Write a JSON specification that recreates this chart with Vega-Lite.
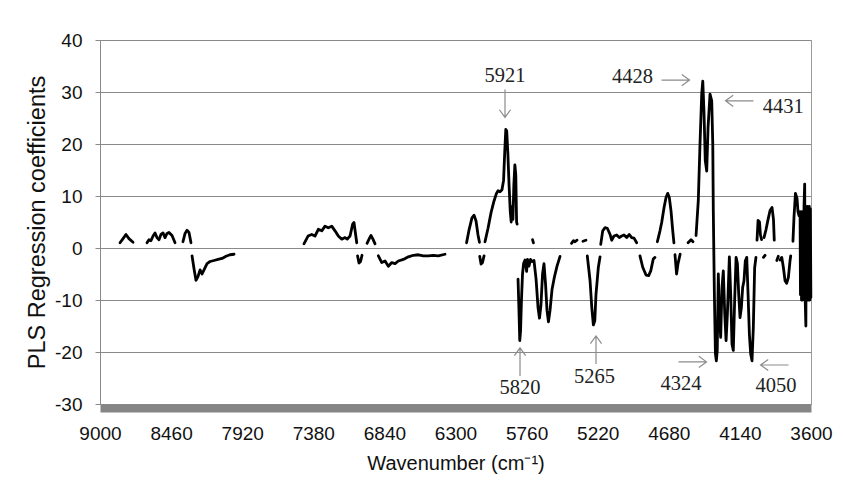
{
  "$schema": "https://vega.github.io/schema/vega-lite/v6.json",
  "width": 711,
  "height": 364,
  "autosize": "none",
  "padding": {"left": 100, "top": 40, "right": 32, "bottom": 76},
  "background": "white",
  "config": {"view": {"stroke": "#9a9a9a", "strokeWidth": 1}, "font": "Liberation Sans"},
  "datasets": {
    "spectrum": [
      {"seg":1,"w":8848,"v":1.0},{"seg":1,"w":8825,"v":1.8},{"seg":1,"w":8803,"v":2.6},{"seg":1,"w":8780,"v":1.8},{"seg":1,"w":8749,"v":1.1},
      {"seg":2,"w":8643,"v":1.0},{"seg":2,"w":8628,"v":1.6},{"seg":2,"w":8613,"v":1.4},{"seg":2,"w":8597,"v":2.3},{"seg":2,"w":8582,"v":2.9},{"seg":2,"w":8567,"v":2.0},{"seg":2,"w":8552,"v":1.6},{"seg":2,"w":8537,"v":2.6},{"seg":2,"w":8521,"v":2.9},{"seg":2,"w":8506,"v":2.0},{"seg":2,"w":8491,"v":2.8},{"seg":2,"w":8476,"v":3.0},{"seg":2,"w":8453,"v":2.4},{"seg":2,"w":8430,"v":1.0},
      {"seg":3,"w":8370,"v":1.2},{"seg":3,"w":8354,"v":2.8},{"seg":3,"w":8339,"v":3.4},{"seg":3,"w":8324,"v":3.0},{"seg":3,"w":8309,"v":1.0},
      {"seg":4,"w":8301,"v":-1.5},{"seg":4,"w":8286,"v":-4.0},{"seg":4,"w":8271,"v":-6.2},{"seg":4,"w":8256,"v":-5.5},{"seg":4,"w":8240,"v":-4.2},{"seg":4,"w":8225,"v":-5.0},{"seg":4,"w":8210,"v":-4.2},{"seg":4,"w":8187,"v":-3.0},{"seg":4,"w":8164,"v":-2.6},{"seg":4,"w":8134,"v":-2.4},{"seg":4,"w":8104,"v":-2.2},{"seg":4,"w":8073,"v":-2.0},{"seg":4,"w":8043,"v":-1.6},{"seg":4,"w":8013,"v":-1.3},{"seg":4,"w":7982,"v":-1.2},
      {"seg":5,"w":7451,"v":0.8},{"seg":5,"w":7420,"v":2.3},{"seg":5,"w":7392,"v":2.6},{"seg":5,"w":7367,"v":2.3},{"seg":5,"w":7342,"v":3.6},{"seg":5,"w":7316,"v":3.3},{"seg":5,"w":7291,"v":4.2},{"seg":5,"w":7266,"v":3.9},{"seg":5,"w":7240,"v":4.2},{"seg":5,"w":7215,"v":3.3},{"seg":5,"w":7190,"v":2.3},{"seg":5,"w":7164,"v":1.7},{"seg":5,"w":7139,"v":2.0},{"seg":5,"w":7122,"v":1.7},{"seg":5,"w":7101,"v":2.3},{"seg":5,"w":7081,"v":4.6},{"seg":5,"w":7071,"v":4.9},{"seg":5,"w":7050,"v":1.0},
      {"seg":6,"w":7044,"v":-1.5},{"seg":6,"w":7033,"v":-2.9},{"seg":6,"w":7021,"v":-2.6},{"seg":6,"w":7010,"v":-1.4},
      {"seg":7,"w":6972,"v":0.9},{"seg":7,"w":6953,"v":1.9},{"seg":7,"w":6942,"v":2.4},{"seg":7,"w":6927,"v":1.7},{"seg":7,"w":6911,"v":0.8},
      {"seg":8,"w":6886,"v":-1.5},{"seg":8,"w":6860,"v":-2.8},{"seg":8,"w":6835,"v":-2.5},{"seg":8,"w":6810,"v":-3.5},{"seg":8,"w":6784,"v":-2.8},{"seg":8,"w":6759,"v":-3.0},{"seg":8,"w":6734,"v":-2.5},{"seg":8,"w":6696,"v":-2.2},{"seg":8,"w":6658,"v":-1.7},{"seg":8,"w":6620,"v":-1.4},{"seg":8,"w":6582,"v":-1.3},{"seg":8,"w":6544,"v":-1.5},{"seg":8,"w":6506,"v":-1.5},{"seg":8,"w":6469,"v":-1.4},{"seg":8,"w":6431,"v":-1.5},{"seg":8,"w":6380,"v":-1.2},
      {"seg":9,"w":6216,"v":1.0},{"seg":9,"w":6197,"v":3.5},{"seg":9,"w":6175,"v":5.8},{"seg":9,"w":6159,"v":6.3},{"seg":9,"w":6144,"v":5.2},{"seg":9,"w":6129,"v":2.5},{"seg":9,"w":6118,"v":1.1},
      {"seg":10,"w":6116,"v":-1.6},{"seg":10,"w":6106,"v":-3.1},{"seg":10,"w":6095,"v":-2.8},{"seg":10,"w":6083,"v":-1.5},
      {"seg":11,"w":6076,"v":1.2},{"seg":11,"w":6053,"v":3.8},{"seg":11,"w":6030,"v":6.8},{"seg":11,"w":6008,"v":9.0},{"seg":11,"w":5989,"v":10.5},{"seg":11,"w":5977,"v":11.0},{"seg":11,"w":5962,"v":10.8},{"seg":11,"w":5947,"v":11.2},{"seg":11,"w":5935,"v":13.0},{"seg":11,"w":5926,"v":18.5},{"seg":11,"w":5918,"v":22.8},{"seg":11,"w":5911,"v":22.5},{"seg":11,"w":5902,"v":18.0},{"seg":11,"w":5893,"v":12.0},{"seg":11,"w":5884,"v":7.0},{"seg":11,"w":5877,"v":5.0},{"seg":11,"w":5870,"v":8.0},{"seg":11,"w":5864,"v":5.5},{"seg":11,"w":5857,"v":12.0},{"seg":11,"w":5849,"v":16.0},{"seg":11,"w":5842,"v":14.0},{"seg":11,"w":5836,"v":5.0},{"seg":11,"w":5832,"v":4.6},
      {"seg":12,"w":5715,"v":1.6},{"seg":12,"w":5708,"v":1.0},
      {"seg":13,"w":5825,"v":-6},{"seg":13,"w":5818,"v":-12},{"seg":13,"w":5812,"v":-17.8},{"seg":13,"w":5806,"v":-16},{"seg":13,"w":5799,"v":-10},{"seg":13,"w":5791,"v":-5},{"seg":13,"w":5783,"v":-3},{"seg":13,"w":5772,"v":-2.3},{"seg":13,"w":5760,"v":-4.5},{"seg":13,"w":5753,"v":-2.2},{"seg":13,"w":5742,"v":-3.5},{"seg":13,"w":5730,"v":-2.2},{"seg":13,"w":5719,"v":-2.6},{"seg":13,"w":5704,"v":-2.4},{"seg":13,"w":5688,"v":-6},{"seg":13,"w":5673,"v":-11.5},{"seg":13,"w":5662,"v":-13.5},{"seg":13,"w":5651,"v":-11},{"seg":13,"w":5639,"v":-5},{"seg":13,"w":5628,"v":-3.0},{"seg":13,"w":5616,"v":-7},{"seg":13,"w":5605,"v":-12},{"seg":13,"w":5594,"v":-14.2},{"seg":13,"w":5582,"v":-12},{"seg":13,"w":5567,"v":-8},{"seg":13,"w":5548,"v":-5.5},{"seg":13,"w":5529,"v":-3.5},{"seg":13,"w":5506,"v":-1.6},
      {"seg":14,"w":5419,"v":0.9},{"seg":14,"w":5404,"v":1.4},{"seg":14,"w":5392,"v":1.2},{"seg":14,"w":5377,"v":1.5},
      {"seg":15,"w":5332,"v":1.3},{"seg":15,"w":5309,"v":1.5},
      {"seg":16,"w":5299,"v":-1.5},{"seg":16,"w":5278,"v":-6.3},{"seg":16,"w":5265,"v":-11.4},{"seg":16,"w":5253,"v":-14.8},{"seg":16,"w":5242,"v":-14.0},{"seg":16,"w":5233,"v":-8.9},{"seg":16,"w":5215,"v":-3.7},{"seg":16,"w":5202,"v":-1.7},
      {"seg":17,"w":5197,"v":0.7},{"seg":17,"w":5182,"v":3.3},{"seg":17,"w":5164,"v":3.9},{"seg":17,"w":5147,"v":3.8},{"seg":17,"w":5126,"v":2.6},{"seg":17,"w":5114,"v":1.5},{"seg":17,"w":5096,"v":2.3},{"seg":17,"w":5076,"v":2.5},{"seg":17,"w":5056,"v":2.0},{"seg":17,"w":5038,"v":2.3},{"seg":17,"w":5020,"v":2.5},{"seg":17,"w":5000,"v":2.0},{"seg":17,"w":4980,"v":2.6},{"seg":17,"w":4962,"v":2.0},{"seg":17,"w":4944,"v":1.9},{"seg":17,"w":4924,"v":1.0},
      {"seg":18,"w":4899,"v":-1.5},{"seg":18,"w":4878,"v":-3.7},{"seg":18,"w":4853,"v":-5.2},{"seg":18,"w":4833,"v":-5.3},{"seg":18,"w":4817,"v":-4.4},{"seg":18,"w":4798,"v":-2.1},{"seg":18,"w":4785,"v":-1.8},
      {"seg":19,"w":4767,"v":1.2},{"seg":19,"w":4747,"v":3.3},{"seg":19,"w":4734,"v":4.9},{"seg":19,"w":4716,"v":7.8},{"seg":19,"w":4701,"v":9.7},{"seg":19,"w":4688,"v":10.5},{"seg":19,"w":4676,"v":9.7},{"seg":19,"w":4663,"v":7.1},{"seg":19,"w":4650,"v":3.3},{"seg":19,"w":4641,"v":1.0},
      {"seg":20,"w":4633,"v":-1.3},{"seg":20,"w":4621,"v":-5.0},{"seg":20,"w":4610,"v":-3.0},{"seg":20,"w":4594,"v":-1.2},
      {"seg":21,"w":4534,"v":1.0},{"seg":21,"w":4511,"v":1.6},{"seg":21,"w":4496,"v":1.2},
      {"seg":22,"w":4473,"v":2.4},{"seg":22,"w":4456,"v":9.1},{"seg":22,"w":4443,"v":20},{"seg":22,"w":4430,"v":29.6},{"seg":22,"w":4422,"v":32.1},{"seg":22,"w":4413,"v":26.4},{"seg":22,"w":4403,"v":16.8},{"seg":22,"w":4392,"v":14.8},{"seg":22,"w":4382,"v":23.1},{"seg":22,"w":4367,"v":29.6},{"seg":22,"w":4354,"v":28.3},{"seg":22,"w":4346,"v":20},{"seg":22,"w":4342,"v":7.2},{"seg":22,"w":4334,"v":-8.7},{"seg":22,"w":4326,"v":-20.3},{"seg":22,"w":4319,"v":-21.7},{"seg":22,"w":4312,"v":-19.7},{"seg":22,"w":4304,"v":-5},{"seg":22,"w":4296,"v":-12.7},{"seg":22,"w":4286,"v":-17.2},{"seg":22,"w":4276,"v":-7.6},{"seg":22,"w":4266,"v":-4.4},{"seg":22,"w":4255,"v":-12.7},{"seg":22,"w":4245,"v":-17.8},{"seg":22,"w":4235,"v":-12.7},{"seg":22,"w":4220,"v":-1.7},{"seg":22,"w":4210,"v":-8.9},{"seg":22,"w":4200,"v":-18.5},{"seg":22,"w":4190,"v":-19.7},{"seg":22,"w":4180,"v":-10.2},{"seg":22,"w":4169,"v":-1.8},{"seg":22,"w":4159,"v":-3},{"seg":22,"w":4149,"v":-8.9},{"seg":22,"w":4139,"v":-13.4},{"seg":22,"w":4129,"v":-11.5},{"seg":22,"w":4119,"v":-7.6},{"seg":22,"w":4109,"v":-6.3},{"seg":22,"w":4099,"v":-2.5},{"seg":22,"w":4088,"v":-1.8},{"seg":22,"w":4078,"v":-8.9},{"seg":22,"w":4068,"v":-16.6},{"seg":22,"w":4058,"v":-20.4},{"seg":22,"w":4048,"v":-21.7},{"seg":22,"w":4038,"v":-15.3},{"seg":22,"w":4028,"v":-3.8},{"seg":22,"w":4018,"v":-1.8},
      {"seg":23,"w":4010,"v":1.5},{"seg":23,"w":4002,"v":5.3},{"seg":23,"w":3991,"v":5.0},{"seg":23,"w":3984,"v":2.5},{"seg":23,"w":3975,"v":1.6},
      {"seg":24,"w":3957,"v":2.0},{"seg":24,"w":3942,"v":3.5},{"seg":24,"w":3926,"v":5.5},{"seg":24,"w":3911,"v":7.2},{"seg":24,"w":3896,"v":7.8},{"seg":24,"w":3885,"v":5.5},{"seg":24,"w":3879,"v":1.5},
      {"seg":25,"w":3961,"v":-1.8},{"seg":25,"w":3949,"v":-1.4},
      {"seg":26,"w":3860,"v":-2.4},{"seg":26,"w":3848,"v":-1.6},
      {"seg":27,"w":3835,"v":-2.3},{"seg":27,"w":3822,"v":-1.8},{"seg":27,"w":3810,"v":-3.7},{"seg":27,"w":3797,"v":-6.3},{"seg":27,"w":3785,"v":-6.8},{"seg":27,"w":3772,"v":-5.7},{"seg":27,"w":3759,"v":-2.4},{"seg":27,"w":3754,"v":-1.5},
      {"seg":28,"w":3737,"v":1.3},{"seg":28,"w":3729,"v":6},{"seg":28,"w":3718,"v":10.5},{"seg":28,"w":3706,"v":9.5},{"seg":28,"w":3699,"v":7},{"seg":28,"w":3691,"v":6.2},{"seg":28,"w":3683,"v":7},{"seg":28,"w":3680,"v":-9},{"seg":28,"w":3676,"v":6},{"seg":28,"w":3672,"v":-10},{"seg":28,"w":3668,"v":7},{"seg":28,"w":3664,"v":-10},{"seg":28,"w":3660,"v":6.5},{"seg":28,"w":3657,"v":-9.5},{"seg":28,"w":3653,"v":8},{"seg":28,"w":3648,"v":12.3},{"seg":28,"w":3644,"v":-10},{"seg":28,"w":3639,"v":-15},{"seg":28,"w":3636,"v":7},{"seg":28,"w":3632,"v":-10},{"seg":28,"w":3628,"v":8},{"seg":28,"w":3624,"v":-10},{"seg":28,"w":3620,"v":7.5},{"seg":28,"w":3617,"v":-9},{"seg":28,"w":3613,"v":8},{"seg":28,"w":3609,"v":-10},{"seg":28,"w":3605,"v":7.5},{"seg":28,"w":3601,"v":-9.5}
    ],
    "labels": [
      {"label":"5921","w":5924,"v":33.1},
      {"label":"4428","w":4956,"v":32.9},
      {"label":"4431","w":3810,"v":27.1},
      {"label":"4324","w":4587,"v":-26.2},
      {"label":"4050","w":3866,"v":-26.5},
      {"label":"5820","w":5810,"v":-26.9},
      {"label":"5265","w":5244,"v":-24.9}
    ],
    "arrows": [
      {"dir":"down","w":5924,"v":27.8},
      {"dir":"right","w":4629,"v":32.3},
      {"dir":"left","w":4143,"v":28.3},
      {"dir":"right","w":4500,"v":-21.9},
      {"dir":"left","w":3877,"v":-22.5},
      {"dir":"up","w":5810,"v":-21.9},
      {"dir":"up","w":5233,"v":-19.6}
    ]
  },
  "encoding": {
    "x": {
      "field": "w", "type": "quantitative",
      "scale": {"domain": [3600, 9000], "reverse": true, "nice": false, "zero": false},
      "axis": {
        "values": [9000, 8460, 7920, 7380, 6840, 6300, 5760, 5220, 4680, 4140, 3600],
        "format": "d", "grid": false, "ticks": false, "tickSize": 0,
        "domainColor": "#858585", "domainWidth": 8, "offset": 4,
        "labelFontSize": 19, "labelColor": "#111111", "labelPadding": 16,
        "labelFlush": false, "labelOverlap": false,
        "title": "Wavenumber (cm⁻¹)", "titleFontSize": 20, "titleFontWeight": "normal",
        "titleColor": "#111111", "titlePadding": 10
      }
    },
    "y": {
      "field": "v", "type": "quantitative",
      "scale": {"domain": [-30, 40], "nice": false, "zero": false},
      "axis": {
        "values": [-30, -20, -10, 0, 10, 20, 30, 40],
        "labelExpr": "'' + datum.value",
        "grid": true, "gridColor": "#8a8a8a", "gridWidth": 1,
        "domainColor": "#8a8a8a", "tickColor": "#8a8a8a", "tickSize": 5,
        "labelFontSize": 19, "labelColor": "#111111", "labelPadding": 13,
        "title": "PLS Regression coefficients", "titleFontSize": 23.5, "titleFontWeight": "normal",
        "titleColor": "#111111", "titlePadding": 5
      }
    }
  },
  "layer": [
    {
      "data": {"name": "spectrum"},
      "mark": {"type": "line", "color": "black", "strokeWidth": 2.8, "strokeJoin": "round", "strokeCap": "round"},
      "encoding": {"detail": {"field": "seg", "type": "nominal"}}
    },
    {
      "data": {"name": "arrows"},
      "transform": [{"filter": "datum.dir == 'right'"}],
      "mark": {"type": "point", "shape": "M-1,0L1,0M0.45,-0.4L1,0L0.45,0.4", "filled": false, "stroke": "#8c8c8c", "strokeWidth": 1.2, "size": 784, "opacity": 1, "angle": 0}
    },
    {
      "data": {"name": "arrows"},
      "transform": [{"filter": "datum.dir == 'down'"}],
      "mark": {"type": "point", "shape": "M-1,0L1,0M0.45,-0.4L1,0L0.45,0.4", "filled": false, "stroke": "#8c8c8c", "strokeWidth": 1.2, "size": 784, "opacity": 1, "angle": 90}
    },
    {
      "data": {"name": "arrows"},
      "transform": [{"filter": "datum.dir == 'left'"}],
      "mark": {"type": "point", "shape": "M-1,0L1,0M0.45,-0.4L1,0L0.45,0.4", "filled": false, "stroke": "#8c8c8c", "strokeWidth": 1.2, "size": 784, "opacity": 1, "angle": 180}
    },
    {
      "data": {"name": "arrows"},
      "transform": [{"filter": "datum.dir == 'up'"}],
      "mark": {"type": "point", "shape": "M-1,0L1,0M0.45,-0.4L1,0L0.45,0.4", "filled": false, "stroke": "#8c8c8c", "strokeWidth": 1.2, "size": 784, "opacity": 1, "angle": 270}
    },
    {
      "data": {"name": "labels"},
      "mark": {"type": "text", "font": "Liberation Serif", "fontSize": 20.5, "color": "#222222"},
      "encoding": {"text": {"field": "label", "type": "nominal"}}
    }
  ]
}
